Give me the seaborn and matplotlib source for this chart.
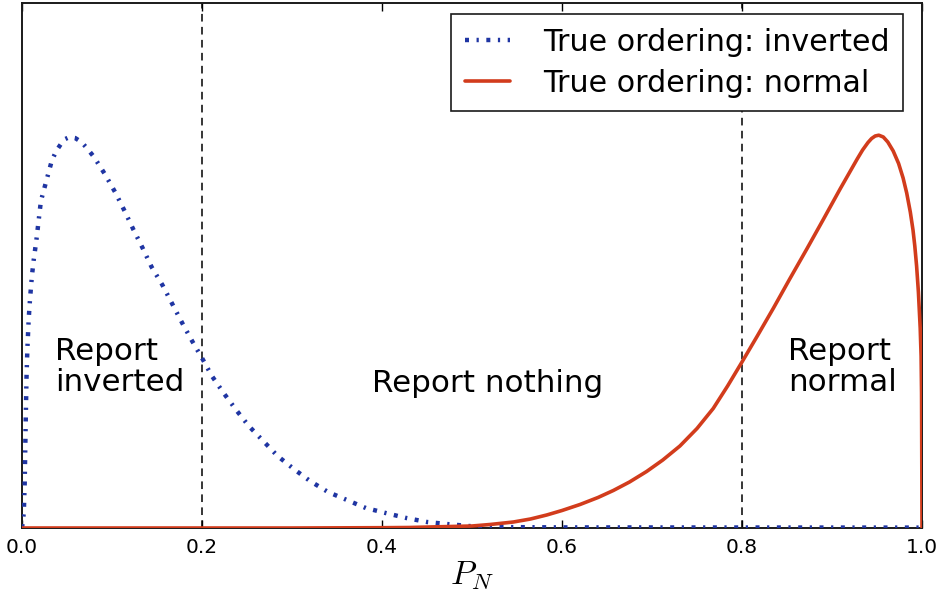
import numpy as np
import pandas as pd
import matplotlib
matplotlib.use("Agg")
import matplotlib.pyplot as plt
import seaborn as sns

# Posterior probability of normal ordering, P_N, and its distribution
# under each true neutrino mass ordering (arbitrary density units).
p_inverted = [0.0, 0.002, 0.003, 0.004, 0.005, 0.006, 0.0075, 0.009, 0.011,
              0.013, 0.016, 0.021, 0.027, 0.033, 0.038, 0.044, 0.048, 0.053,
              0.059, 0.066, 0.072, 0.080,
              0.092, 0.104, 0.114, 0.124, 0.134, 0.144, 0.156, 0.167, 0.178,
              0.189, 0.200, 0.211, 0.224, 0.238, 0.252, 0.268, 0.284, 0.302,
              0.320, 0.340, 0.361, 0.382, 0.404, 0.427, 0.450, 0.472, 0.496,
              0.520, 0.600, 0.800, 1.000]
dens_inverted = [0.0, 0.15, 0.45, 1.00, 1.50, 1.80, 2.10, 2.30, 2.52,
                 2.68, 2.88, 3.27, 3.47, 3.67, 3.77, 3.85, 3.89, 3.91,
                 3.90, 3.86, 3.80, 3.71,
                 3.54, 3.35, 3.17, 2.98, 2.80, 2.61, 2.43, 2.24, 2.05,
                 1.87, 1.70, 1.52, 1.35, 1.18, 1.02, 0.87, 0.72, 0.59,
                 0.47, 0.36, 0.28, 0.20, 0.15, 0.10, 0.06, 0.04, 0.02,
                 0.01, 0.006, 0.005, 0.004]

p_normal = [0.0, 0.300, 0.400, 0.430, 0.476, 0.500, 0.520, 0.546, 0.565,
            0.583, 0.600, 0.620, 0.640, 0.657, 0.675, 0.694, 0.712, 0.731,
            0.750, 0.768, 0.784, 0.800, 0.817, 0.835, 0.853, 0.872, 0.890,
            0.909, 0.928, 0.934, 0.940, 0.944, 0.948, 0.952, 0.957, 0.962,
            0.968, 0.974, 0.979, 0.983, 0.987, 0.990, 0.992, 0.994,
            0.996, 0.998, 0.999, 0.9995, 1.000]
dens_normal = [0.0, 0.0, 0.003, 0.005, 0.015, 0.02, 0.035, 0.06, 0.09,
               0.13, 0.175, 0.235, 0.305, 0.375, 0.46, 0.565, 0.68, 0.82,
               0.995, 1.195, 1.42, 1.66, 1.92, 2.20, 2.49, 2.79, 3.08,
               3.39, 3.69, 3.78, 3.855, 3.895, 3.92, 3.928, 3.91, 3.86,
               3.77, 3.645, 3.50, 3.35, 3.16, 2.98, 2.82, 2.62,
               2.36, 2.00, 1.72, 1.35, 0.0]

thresholds = [0.2, 0.8]
xticks = [0.0, 0.2, 0.4, 0.6, 0.8, 1.0]

label_inverted = "True ordering: inverted"
label_normal = "True ordering: normal"

sns.set_theme(style="ticks")
plt.rcParams["font.family"] = ["DejaVu Sans"]
plt.rcParams["mathtext.fontset"] = "cm"
plt.rcParams["text.color"] = "black"
plt.rcParams["axes.labelcolor"] = "black"

fig = plt.figure(figsize=(9.43, 6.0), dpi=100)
ax = fig.add_axes([22 / 943, 1 - 528 / 600, 900 / 943, 525 / 600])

df_inv = pd.DataFrame({"P": p_inverted, "density": dens_inverted})
df_nor = pd.DataFrame({"P": p_normal, "density": dens_normal})

sns.lineplot(data=df_inv, x="P", y="density", ax=ax, estimator=None,
             color="#1f35a3", linewidth=3.2,
             linestyle=(0, (0.9, 1.7, 0.5, 1.7)),
             label=label_inverted, zorder=3)
sns.lineplot(data=df_nor, x="P", y="density", ax=ax, estimator=None,
             color="#d23c1c", linewidth=2.6, label=label_normal, zorder=4)

for t in thresholds:
    ax.axvline(t, color="black", linewidth=1.1, linestyle=(0, (5, 3.5)),
               zorder=2)

text_size = 22.3
ax.text(0.037, 1.61, "Report\ninverted", fontsize=text_size, ha="left",
        va="center", linespacing=1.1, color="black")
ax.text(0.389, 1.45, "Report nothing", fontsize=text_size, ha="left",
        va="center", color="black")
ax.text(0.851, 1.61, "Report\nnormal", fontsize=text_size, ha="left",
        va="center", linespacing=1.1, color="black")

ax.set_xlim(0, 1)
ax.set_ylim(0, 5.25)
ax.set_xticks(xticks)
ax.set_xticklabels([f"{v:.1f}" for v in xticks])
ax.set_yticks([])
ax.set_xlabel(r"$P_N$", fontsize=24, labelpad=2, color="black")
ax.set_ylabel("")
ax.tick_params(axis="x", direction="in", top=True, bottom=True,
               length=6, width=1, labelsize=14.5, pad=7, colors="black")

for side in ["left", "right", "top", "bottom"]:
    ax.spines[side].set_visible(True)
    ax.spines[side].set_color("#1a1a1a")
    ax.spines[side].set_linewidth(1.4)

leg = ax.legend(loc="upper right", bbox_to_anchor=(0.979, 0.979),
                borderaxespad=0, fontsize=21.7, frameon=True,
                fancybox=False, framealpha=1, edgecolor="#1a1a1a",
                handlelength=1.5, handletextpad=1.1, labelspacing=0.4,
                borderpad=0.45)
leg.get_frame().set_linewidth(1.2)
for txt in leg.get_texts():
    txt.set_color("black")

fig.savefig("out.png", dpi=100)
